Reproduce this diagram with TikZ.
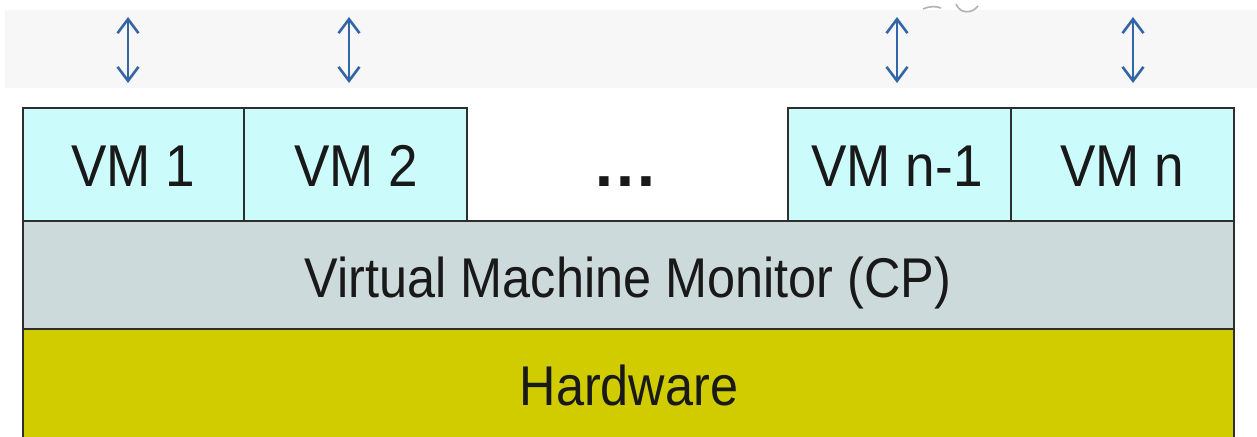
\documentclass[tikz,border=0pt]{standalone}
\usepackage{fontspec}
\setmainfont{Liberation Sans}
\usetikzlibrary{arrows.meta}

\definecolor{vmfill}{HTML}{CCFBFC}
\definecolor{vmmfill}{HTML}{CDDADB}
\definecolor{hwfill}{HTML}{D0CC00}
\definecolor{edge}{HTML}{2E2E2E}
\definecolor{link}{HTML}{3366A6}
\definecolor{band}{HTML}{F7F7F7}

\tikzset{
  layer/.style={draw=edge, line width=2pt},
  vmbox/.style={layer, fill=vmfill},
  label/.style={anchor=base, inner sep=0pt, text=black!90},
  vmlabel/.style={label, font=\fontsize{59}{59}\selectfont},
  biglabel/.style={label, font=\fontsize{56}{56}\selectfont},
  duplex/.style={link, line width=2.6pt,
    {Straight Barb[length=14pt,width=21pt]}-{Straight Barb[length=14pt,width=21pt]}},
}

\newcommand{\squeeze}[1]{\scalebox{0.9}[1]{#1}}

\begin{document}
\begin{tikzpicture}[x=1pt,y=-1pt]
  \useasboundingbox (0,0) rectangle (1257,436);
  \clip (0,0) rectangle (1257,436);

  % faint band behind the arrows
  \fill[band] (5,10) rectangle (1257,88);
  % fragment of a glyph cut off at the top edge
  \draw[gray!60, line width=1.6pt] (923,9) .. controls (930,6) and (936,6) .. (941,8);
  \draw[gray!60, line width=1.6pt] (956,4) .. controls (960,14) and (972,14) .. (978,6);

  % hardware layer, running off the bottom edge
  \path[layer, fill=hwfill] (23,329) rectangle (1234,445);
  % monitor layer
  \path[layer, fill=vmmfill] (23,221) rectangle (1234,329);
  % virtual machines
  \path[vmbox] (23,108) rectangle (244,221);
  \path[vmbox] (244,108) rectangle (467,221);
  \path[vmbox] (788,108) rectangle (1011,221);
  \path[vmbox] (1011,108) rectangle (1234,221);

  \node[vmlabel] (vm1)  at (133,186) {\squeeze{VM 1}};
  \node[vmlabel] (vm2)  at (356,186) {\squeeze{VM 2}};
  \node[label, font=\bfseries\fontsize{66}{66}\selectfont] (dots) at (625,186) {…};
  \node[vmlabel] (vmn1) at (897,186) {\squeeze{VM n-1}};
  \node[vmlabel] (vmn)  at (1122,186) {\squeeze{VM n}};
  \node[biglabel] (vmm) at (628,297) {\squeeze{Virtual Machine Monitor (CP)}};
  \node[biglabel] (hw)  at (629,405) {\squeeze{Hardware}};

  % connections above each virtual machine
  \coordinate (t1) at (128,17);  \coordinate (b1) at (128,83);
  \coordinate (t2) at (349,17);  \coordinate (b2) at (349,83);
  \coordinate (t3) at (897,17);  \coordinate (b3) at (897,83);
  \coordinate (t4) at (1133,17); \coordinate (b4) at (1133,83);
  \draw[duplex] (t1) -- (b1);
  \draw[duplex] (t2) -- (b2);
  \draw[duplex] (t3) -- (b3);
  \draw[duplex] (t4) -- (b4);
\end{tikzpicture}
\end{document}
